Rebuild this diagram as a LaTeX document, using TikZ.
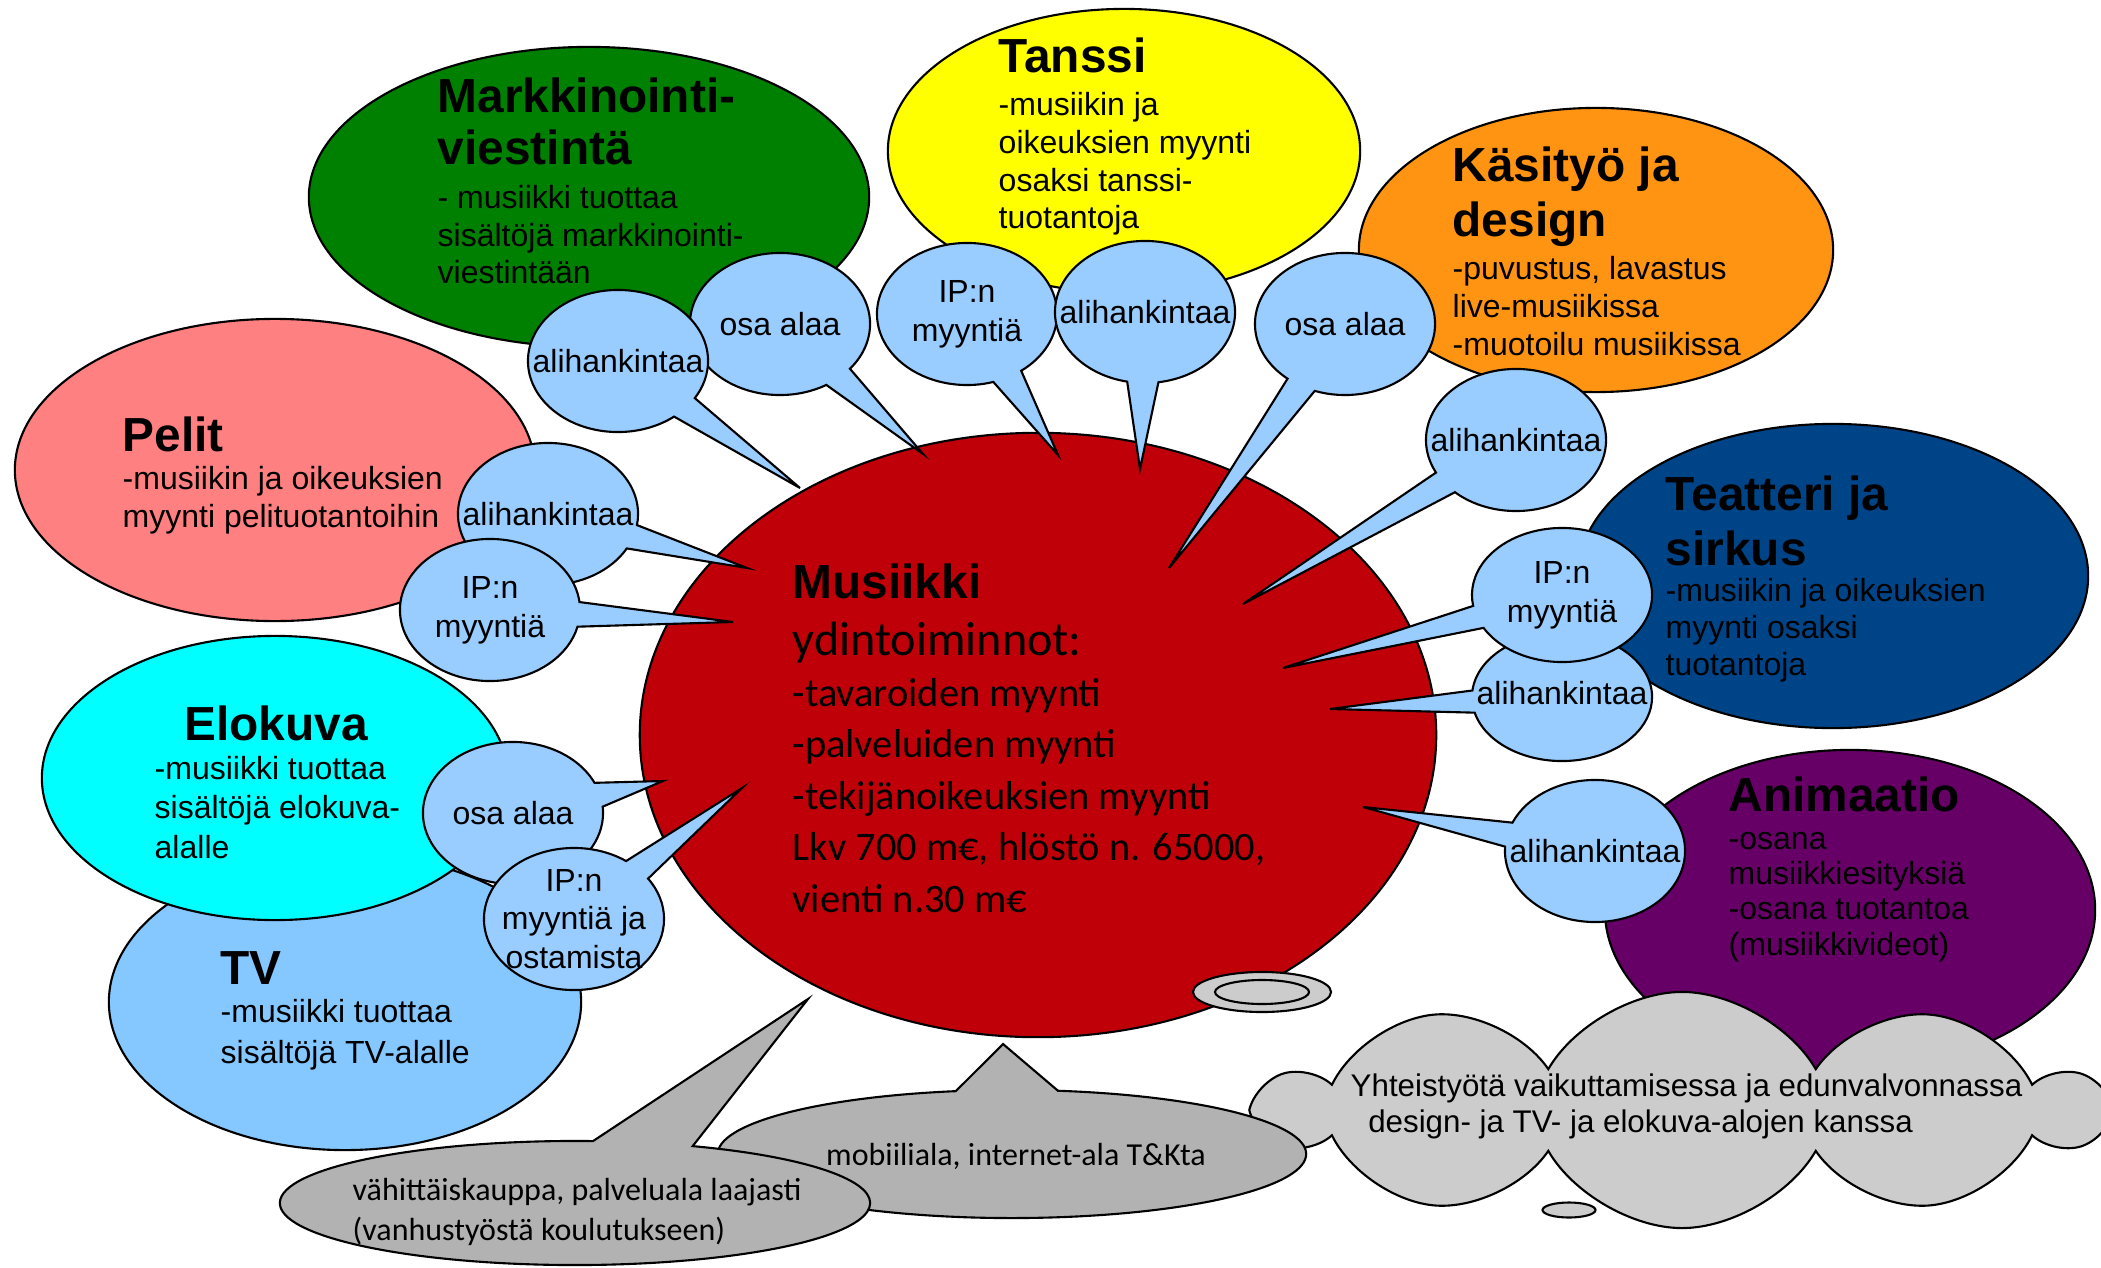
\documentclass[tikz,border=0pt]{standalone}
\usepackage{fontspec}
\setmainfont{Liberation Sans}
\newfontfamily\calibri{Carlito}
\usetikzlibrary{shapes.geometric,shapes.callouts,shapes.symbols}

\definecolor{markkgreen}{RGB}{0,128,0}
\definecolor{tanssiyellow}{RGB}{255,255,0}
\definecolor{kasiorange}{RGB}{255,148,18}
\definecolor{teatterinavy}{RGB}{0,68,136}
\definecolor{animpurple}{RGB}{102,0,102}
\definecolor{musared}{RGB}{192,0,8}
\definecolor{pelitpink}{RGB}{255,128,128}
\definecolor{elokuvacyan}{RGB}{0,255,255}
\definecolor{tvblue}{RGB}{133,200,255}
\definecolor{bubbleblue}{RGB}{153,204,255}
\definecolor{calloutgray}{RGB}{178,178,178}
\definecolor{cloudgray}{RGB}{204,204,204}

\begin{document}
\begin{tikzpicture}[x=0.01cm,y=-0.01cm]
  \tikzset{blob/.style = {ellipse, draw=black, line width=0.6pt, inner sep=0pt}}
  \tikzset{bubble/.style = {ellipse callout, draw=black, line width=0.6pt, fill=bubbleblue, inner sep=0pt, minimum width=18mm, minimum height=14.2mm, callout pointer arc=20}}
  \tikzset{graycall/.style = {ellipse callout, draw=black, line width=0.6pt, fill=calloutgray, inner sep=0pt, callout pointer arc=20}}
  \tikzset{headtxt/.style = {anchor=base west, inner sep=0pt, align=left, font=\fontsize{13.6}{15}\selectfont\bfseries}}
  \tikzset{bodytxt/.style = {anchor=base west, inner sep=0pt, align=left, font=\fontsize{9.1}{10.8}\selectfont}}
  \tikzset{btext/.style = {inner sep=0pt, align=center, font=\fontsize{9.1}{11}\selectfont}}

\useasboundingbox (0,0) rectangle (2101,1267);

% sector ellipses
\node[blob, fill=tvblue, minimum width=47.2mm, minimum height=29.6mm] (tv) at (345,1002) {};
\node[blob, fill=elokuvacyan, minimum width=46.6mm, minimum height=28.4mm] (elokuva) at (275,778) {};
\node[blob, fill=pelitpink, minimum width=52mm, minimum height=30.2mm] (pelit) at (275,470) {};
\node[blob, fill=markkgreen, minimum width=56mm, minimum height=30mm] (markk) at (589,197) {};
\node[blob, fill=tanssiyellow, minimum width=47.2mm, minimum height=28.4mm] (tanssi) at (1124,151) {};
\node[blob, fill=kasiorange, minimum width=47.4mm, minimum height=28.4mm] (kasityo) at (1596,250) {};
\node[blob, fill=teatterinavy, minimum width=51mm, minimum height=30.4mm] (teatteri) at (1833,576) {};
\node[blob, fill=animpurple, minimum width=49mm, minimum height=32mm] (anim) at (1850,910) {};
\node[blob, fill=musared, minimum width=79.6mm, minimum height=60.4mm] (musa) at (1038,735) {};

% texts of the sectors (anchored at the baseline of the last line)
\node[headtxt] (markktit) at (437,165) {Markkinointi-\\viestintä};
\node[bodytxt] (markktxt) at (437,284) {- musiikki tuottaa\\sisältöjä markkinointi-\\viestintään};
\node[headtxt] (tanssitit) at (998,73) {Tanssi};
\node[bodytxt] (tanssitxt) at (998,229) {-musiikin ja\\oikeuksien myynti\\osaksi tanssi-\\tuotantoja};
\node[headtxt, font=\fontsize{13.6}{15.8}\selectfont\bfseries] (kasitit) at (1452,237) {Käsityö ja\\design};
\node[bodytxt] (kasitxt) at (1452,355) {-puvustus, lavastus\\live-musiikissa\\-muotoilu musiikissa};
\node[headtxt] (pelittit) at (122,451) {Pelit};
\node[bodytxt] (pelittxt) at (122,527) {-musiikin ja oikeuksien\\myynti pelituotantoihin};
\node[headtxt, font=\fontsize{13.6}{15.6}\selectfont\bfseries] (teattit) at (1665,565) {Teatteri ja\\sirkus};
\node[bodytxt, font=\fontsize{9.1}{10.4}\selectfont] (teattxt) at (1665,675) {-musiikin ja oikeuksien\\myynti osaksi\\tuotantoja};
\node[headtxt, anchor=base] (elotit) at (276,740) {Elokuva};
\node[bodytxt, font=\fontsize{9.1}{11.1}\selectfont] (elotxt) at (154,858) {-musiikki tuottaa\\sisältöjä elokuva-\\alalle};
\node[headtxt] (tvtit) at (220,984) {TV};
\node[bodytxt, font=\fontsize{9.1}{11.5}\selectfont] (tvtxt) at (220,1063) {-musiikki tuottaa\\sisältöjä TV-alalle};
\node[headtxt] (animtit) at (1728,811) {Animaatio};
\node[bodytxt, font=\fontsize{9.1}{10}\selectfont] (animtxt) at (1728,955) {-osana\\musiikkiesityksiä\\-osana tuotantoa\\(musiikkivideot)};
\node[headtxt] (musatit) at (792,598) {Musiikki};
\node[anchor=base west, inner sep=0pt, align=left, font=\calibri\fontsize{11.5}{14.6}\selectfont] (musatxt) at (792,912) {{\fontsize{13.7}{14.6}\selectfont ydintoiminnot:}\\-tavaroiden myynti\\-palveluiden myynti\\-tekijänoikeuksien myynti\\Lkv 700 m€, hlöstö n. 65000,\\vienti n.30 m€};

% cloud and gray callouts
\node[cloud, cloud puffs=10, cloud puff arc=120, cloud ignores aspect, draw=black, line width=0.6pt, fill=cloudgray, minimum width=83.8mm, minimum height=23.6mm, inner sep=0pt] (yhteis) at (1682,1110) {};
\node[blob, fill=cloudgray, minimum width=13.8mm, minimum height=4mm] (puff1) at (1262,992) {};
\node[blob, minimum width=9.4mm, minimum height=2.4mm] (puff2) at (1262,992) {};
\node[blob, fill=cloudgray, minimum width=5.3mm, minimum height=1.5mm] (puff3) at (1569,1210) {};
\node[anchor=base west, inner sep=0pt, align=left, font=\fontsize{8.9}{10}\selectfont] (yhteistxt) at (1350,1132) {Yhteistyötä vaikuttamisessa ja edunvalvonnassa\\\hspace*{5pt}design- ja TV- ja elokuva-alojen kanssa};

\coordinate (tmobi) at (1003,1044);
\node[graycall, minimum width=58.8mm, minimum height=12.8mm, callout absolute pointer={(tmobi)}] (mobi) at (1012,1154) {};
\node[anchor=base, inner sep=0pt, font=\calibri\fontsize{9.1}{11}\selectfont] (mobitxt) at (1016,1165) {mobiiliala, internet-ala T\&Kta};

\coordinate (tvahit) at (808,999);
\node[graycall, minimum width=59mm, minimum height=12.4mm, callout absolute pointer={(tvahit)}] (vahit) at (575,1203) {};
\node[anchor=base west, inner sep=0pt, align=left, font=\calibri\fontsize{9.1}{11.1}\selectfont] (vahittxt) at (352,1240) {vähittäiskauppa, palveluala laajasti\\(vanhustyöstä koulutukseen)};

% speech bubbles pointing into the music ellipse
\coordinate (tosa1) at (923,454);
\node[bubble, callout absolute pointer={(tosa1)}] (osa1) at (780,324) {};
\node[btext] (osa1txt) at (osa1.center) {osa alaa};
\coordinate (tali1) at (800,488);
\node[bubble, callout absolute pointer={(tali1)}] (ali1) at (618,361) {};
\node[btext] (ali1txt) at (ali1.center) {alihankintaa};

\coordinate (tip1) at (1058,455);
\node[bubble, callout absolute pointer={(tip1)}] (ip1) at (967,314) {};
\node[btext] (ip1txt) at (ip1.center) {IP:n\\myyntiä};
\coordinate (tali2) at (1140,469);
\node[bubble, callout absolute pointer={(tali2)}] (ali2) at (1145,312) {};
\node[btext] (ali2txt) at (ali2.center) {alihankintaa};

\coordinate (tosa2) at (1169,568);
\node[bubble, callout absolute pointer={(tosa2)}] (osa2) at (1345,324) {};
\node[btext] (osa2txt) at (osa2.center) {osa alaa};

\coordinate (tali3) at (1243,604);
\node[bubble, callout absolute pointer={(tali3)}] (ali3) at (1516,440) {};
\node[btext] (ali3txt) at (ali3.center) {alihankintaa};

\coordinate (tali4) at (1330,709);
\node[bubble, minimum height=12.8mm, callout absolute pointer={(tali4)}] (ali4) at (1562,697) {};
\node[btext] (ali4txt) at (1562,693) {alihankintaa};
\coordinate (tip2) at (1283,668);
\node[bubble, minimum height=13.4mm, callout absolute pointer={(tip2)}] (ip2) at (1562,595) {};
\node[btext] (ip2txt) at (ip2.center) {IP:n\\myyntiä};

\coordinate (tali5) at (1363,807);
\node[bubble, callout absolute pointer={(tali5)}] (ali5) at (1595,851) {};
\node[btext] (ali5txt) at (ali5.center) {alihankintaa};

\coordinate (tali6) at (747,568);
\node[bubble, callout absolute pointer={(tali6)}] (ali6) at (548,514) {};
\node[btext] (ali6txt) at (ali6.center) {alihankintaa};
\coordinate (tip3) at (733,622);
\node[bubble, callout absolute pointer={(tip3)}] (ip3) at (490,610) {};
\node[btext] (ip3txt) at (ip3.center) {IP:n\\myyntiä};

\coordinate (tosa3) at (663,781);
\node[bubble, callout absolute pointer={(tosa3)}] (osa3) at (513,813) {};
\node[btext] (osa3txt) at (osa3.center) {osa alaa};
\coordinate (tip4) at (742,788);
\node[bubble, callout absolute pointer={(tip4)}] (ip4) at (574,919) {};
\node[btext] (ip4txt) at (ip4.center) {IP:n\\myyntiä ja\\ostamista};

\end{tikzpicture}
\end{document}
